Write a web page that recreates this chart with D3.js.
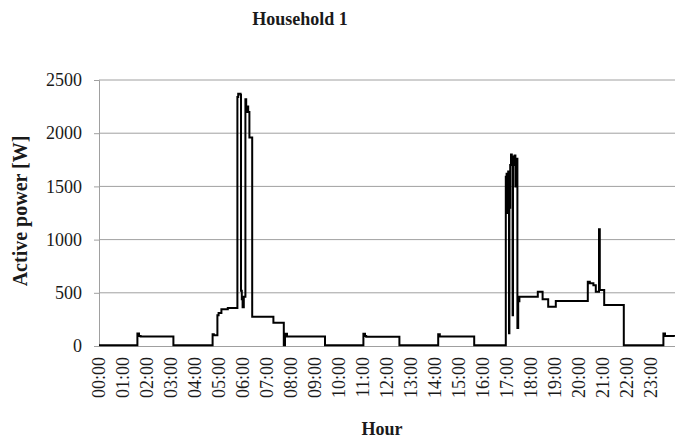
<!DOCTYPE html>
<html>
<head>
<meta charset="utf-8">
<script src="https://cdn.jsdelivr.net/npm/d3@7"></script>
<style>
    body { margin: 0; background: #fff; }
    text { font-family: "Liberation Serif", "Times New Roman", serif; fill: #1a1a1a; }
</style>
</head>
<body>
<div id="chart"></div>
<script>
// readings of household 1 (step changes, time of change -> watts)
const times = ["00:00", "01:36", "01:40", "01:44", "03:06", "04:44", "04:47", "04:56", "04:59", "05:06",
    "05:22", "05:46", "05:48", "05:54", "05:55", "05:57", "05:59", "06:02", "06:06", "06:08",
    "06:10", "06:13", "06:16", "06:23", "07:16", "07:42", "07:45", "07:50", "09:25", "11:01",
    "11:05", "11:08", "12:31", "14:08", "14:12", "15:38", "16:57", "16:59", "17:01", "17:03",
    "17:05", "17:06", "17:08", "17:10", "17:12", "17:14", "17:15", "17:17", "17:19", "17:21",
    "17:24", "17:26", "17:28", "17:31", "18:17", "18:29", "18:43", "19:02", "20:22", "20:27",
    "20:36", "20:42", "20:50", "20:52", "21:03", "21:52", "23:31", "23:35", "23:59"];
const watts = [8, 118, 95, 90, 8, 110, 100, 290, 310, 345,
    357, 2340, 2370, 2360, 520, 440, 364, 464, 2320, 2200,
    2250, 2200, 1960, 275, 219, 8, 115, 90, 8, 115,
    95, 88, 8, 110, 90, 8, 1590, 1620, 1250, 1640,
    120, 1300, 1700, 1800, 1750, 290, 1700, 1780, 1790, 1500,
    1760, 170, 420, 464, 511, 439, 370, 423, 604, 590,
    570, 511, 1097, 526, 385, 8, 118, 95, 90];

const hourLabels = ["00:00", "01:00", "02:00", "03:00", "04:00", "05:00", "06:00", "07:00",
    "08:00", "09:00", "10:00", "11:00", "12:00", "13:00", "14:00", "15:00",
    "16:00", "17:00", "18:00", "19:00", "20:00", "21:00", "22:00", "23:00"];
const yTicks = [0, 500, 1000, 1500, 2000, 2500];

const toMin = s => +s.slice(0, 2) * 60 + +s.slice(3, 5);
const data = times.map((t, i) => ({min: toMin(t), w: watts[i]}));

const width = 675, height = 443;
const margin = {top: 80, right: 0, bottom: 97, left: 99};

const svg = d3.select("#chart").append("svg")
    .attr("width", width)
    .attr("height", height);

const x = d3.scaleLinear().domain([0, 1440]).range([margin.left, width - margin.right]);
const y = d3.scaleLinear().domain([0, 2500]).range([height - margin.bottom, margin.top]);

// gridlines
svg.append("g")
    .selectAll("line")
    .data(yTicks.slice(1))
    .enter()
    .append("line")
    .attr("x1", margin.left)
    .attr("x2", width)
    .attr("y1", d => y(d))
    .attr("y2", d => y(d))
    .attr("stroke", "#a0a0a0")
    .attr("stroke-width", 1);

// y axis
const yAxis = svg.append("g")
    .attr("transform", `translate(${margin.left},0)`)
    .call(d3.axisLeft(y).tickValues(yTicks).tickSize(5).tickPadding(12).tickFormat(d3.format("d")));
yAxis.select(".domain").attr("stroke", "#a0a0a0");
yAxis.selectAll(".tick line").attr("stroke", "#a0a0a0");
yAxis.selectAll("text").style("font-size", "18px").attr("fill", "#1a1a1a");

// x axis
const xAxis = svg.append("g")
    .attr("transform", `translate(0,${y(0)})`)
    .call(d3.axisBottom(x)
        .tickValues(hourLabels.map(toMin))
        .tickSize(0)
        .tickFormat((d, i) => hourLabels[i]));
xAxis.select(".domain").attr("stroke", "#a0a0a0");
xAxis.selectAll("text")
    .style("font-size", "18px")
    .attr("fill", "#1a1a1a")
    .attr("text-anchor", "end")
    .attr("transform", "rotate(-90)")
    .attr("x", -11)
    .attr("y", 0)
    .attr("dy", "0.33em");

// power line
const line = d3.line()
    .x(d => x(d.min))
    .y(d => y(d.w))
    .curve(d3.curveStepAfter);

svg.append("path")
    .datum(data)
    .attr("fill", "none")
    .attr("stroke", "#000")
    .attr("stroke-width", 2)
    .attr("stroke-linejoin", "miter")
    .attr("d", line);

// titles
svg.append("text")
    .attr("x", 300)
    .attr("y", 25)
    .attr("text-anchor", "middle")
    .style("font-size", "18px")
    .style("font-weight", "bold")
    .text("Household 1");

svg.append("text")
    .attr("x", 382)
    .attr("y", 435)
    .attr("text-anchor", "middle")
    .style("font-size", "18px")
    .style("font-weight", "bold")
    .text("Hour");

svg.append("text")
    .attr("transform", "translate(27,211) rotate(-90)")
    .attr("text-anchor", "middle")
    .style("font-size", "20px")
    .style("font-weight", "bold")
    .text("Active power [W]");
</script>
</body>
</html>
